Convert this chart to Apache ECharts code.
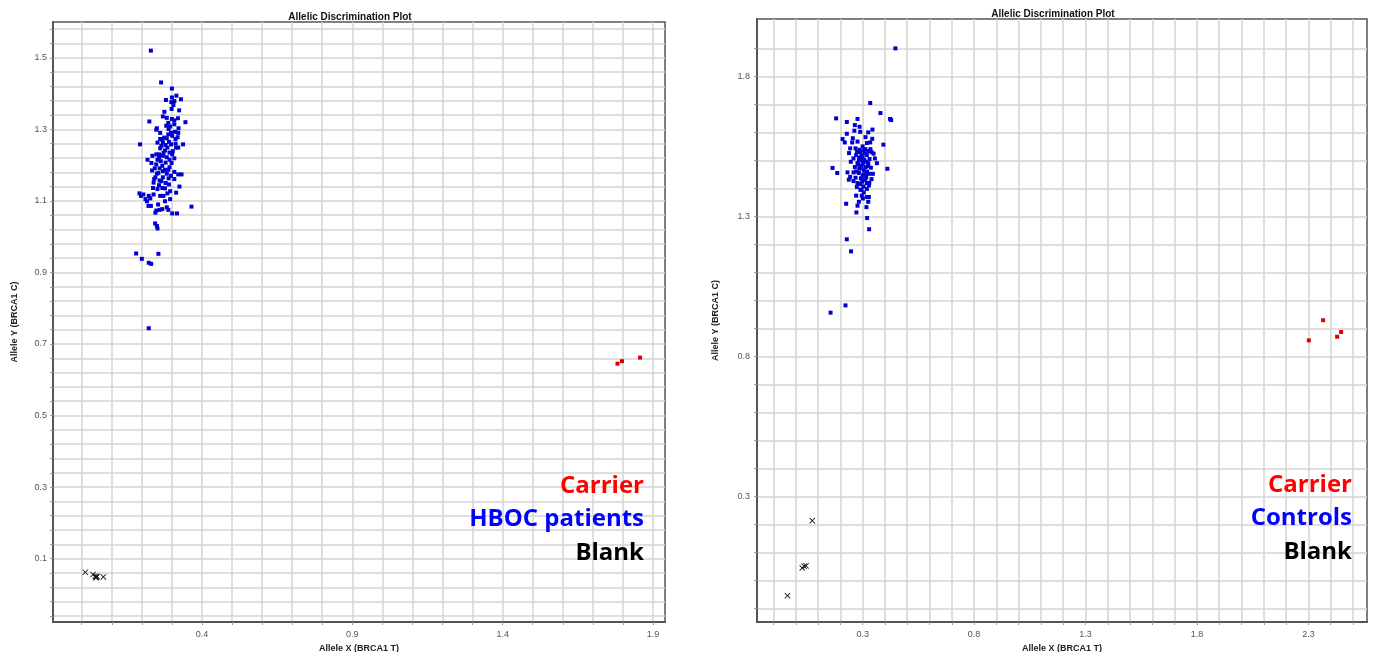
<!DOCTYPE html>
<html><head><meta charset="utf-8">
<script src="https://cdn.jsdelivr.net/npm/echarts@6/dist/echarts.min.js"></script>
<style>html,body{margin:0;padding:0;background:#fff}#c{width:1374px;height:652px}</style>
</head><body><div id="c"></div>
<script>
// ---------- texts ----------
const plotTitle = 'Allelic Discrimination Plot';
const xName = 'Allele X (BRCA1 T)';
const yName = 'Allele Y (BRCA1 C)';
const leftNames = ['Carrier', 'HBOC patients', 'Blank'];
const rightNames = ['Carrier', 'Controls', 'Blank'];

// ---------- ticks / labels ----------
const leftXLabels = [0.4, 0.9, 1.4, 1.9];
const leftXTicks = [0, 0.1, 0.2, 0.3, 0.4, 0.5, 0.6, 0.7, 0.8, 0.9, 1.0, 1.1, 1.2, 1.3, 1.4, 1.5, 1.6, 1.7, 1.8, 1.9];
const leftYLabels = [0.1, 0.3, 0.5, 0.7, 0.9, 1.1, 1.3, 1.5];
const leftYTicks = [-0.06, -0.02, 0.02, 0.06, 0.1, 0.14, 0.18, 0.22, 0.26, 0.3, 0.34, 0.38, 0.42, 0.46, 0.5, 0.54, 0.58, 0.62, 0.66, 0.7, 0.74, 0.78, 0.82, 0.86, 0.9, 0.94, 0.98, 1.02, 1.06, 1.1, 1.14, 1.18, 1.22, 1.26, 1.3, 1.34, 1.38, 1.42, 1.46, 1.5, 1.54, 1.58];
const rightXLabels = [0.3, 0.8, 1.3, 1.8, 2.3];
const rightXTicks = [-0.1, 0, 0.1, 0.2, 0.3, 0.4, 0.5, 0.6, 0.7, 0.8, 0.9, 1.0, 1.1, 1.2, 1.3, 1.4, 1.5, 1.6, 1.7, 1.8, 1.9, 2.0, 2.1, 2.2, 2.3, 2.4, 2.5];
const rightYLabels = [0.3, 0.8, 1.3, 1.8];
const rightYTicks = [-0.1, 0, 0.1, 0.2, 0.3, 0.4, 0.5, 0.6, 0.7, 0.8, 0.9, 1.0, 1.1, 1.2, 1.3, 1.4, 1.5, 1.6, 1.7, 1.8, 1.9];

// ---------- data: left (HBOC patients) ----------
const leftCarrier = [[1.782, 0.645], [1.797, 0.652], [1.857, 0.662]];
const leftBlank = [[0.012, 0.062], [0.038, 0.056], [0.045, 0.051], [0.048, 0.049], [0.051, 0.050], [0.047, 0.047], [0.072, 0.049]];
const leftPatients = [
[0.230,1.520],[0.264,1.431],[0.300,1.414],[0.315,1.394],[0.280,1.382],[0.300,1.389],[0.308,1.379],[0.330,1.384],[0.298,1.376],[0.305,1.368],
[0.299,1.357],[0.324,1.353],[0.275,1.349],[0.270,1.336],[0.283,1.332],[0.300,1.329],[0.308,1.325],[0.320,1.331],[0.225,1.322],[0.345,1.320],
[0.288,1.318],[0.294,1.308],[0.308,1.314],[0.289,1.301],[0.322,1.303],[0.250,1.303],[0.248,1.299],[0.310,1.293],[0.321,1.290],[0.297,1.290],
[0.261,1.290],[0.274,1.277],[0.283,1.275],[0.319,1.278],[0.268,1.271],[0.252,1.263],[0.270,1.263],[0.290,1.265],[0.297,1.258],[0.312,1.260],
[0.194,1.258],[0.337,1.258],[0.314,1.249],[0.321,1.249],[0.261,1.247],[0.277,1.241],[0.292,1.235],[0.248,1.230],[0.235,1.226],[0.257,1.230],
[0.270,1.226],[0.283,1.222],[0.308,1.219],[0.292,1.215],[0.219,1.215],[0.252,1.215],[0.263,1.211],[0.279,1.207],[0.232,1.206],[0.248,1.202],
[0.268,1.198],[0.292,1.194],[0.243,1.191],[0.259,1.191],[0.277,1.187],[0.234,1.185],[0.255,1.178],[0.283,1.176],[0.297,1.170],[0.321,1.174],
[0.332,1.174],[0.245,1.166],[0.270,1.166],[0.289,1.163],[0.259,1.157],[0.239,1.151],[0.279,1.150],[0.325,1.140],[0.257,1.144],[0.237,1.136],
[0.252,1.133],[0.268,1.136],[0.294,1.127],[0.285,1.121],[0.192,1.121],[0.205,1.118],[0.197,1.114],[0.223,1.114],[0.239,1.118],[0.212,1.105],
[0.228,1.107],[0.217,1.099],[0.277,1.099],[0.254,1.090],[0.222,1.086],[0.230,1.086],[0.268,1.077],[0.283,1.082],[0.365,1.084],[0.288,1.075],
[0.248,1.073],[0.259,1.075],[0.245,1.067],[0.301,1.065],[0.317,1.065],[0.244,1.037],[0.250,1.030],[0.252,1.023],[0.181,0.953],[0.255,0.952],
[0.200,0.938],[0.223,0.927],[0.231,0.924],[0.223,0.744],
[0.281,1.310],[0.301,1.282],[0.265,1.254],[0.285,1.249],[0.303,1.239],[0.272,1.234],[0.257,1.221],[0.299,1.206],[0.270,1.183],[0.288,1.187],
[0.308,1.181],[0.250,1.176],[0.265,1.155],[0.290,1.146],[0.277,1.135],[0.261,1.114],[0.294,1.105],[0.272,1.114],[0.314,1.123],[0.301,1.230],
[0.279,1.256],[0.261,1.273],[0.288,1.286],[0.312,1.273],[0.241,1.161],[0.308,1.161]
];

// ---------- data: right (Controls) ----------
const rightCarrier = [[2.366, 0.929], [2.302, 0.857], [2.429, 0.870], [2.447, 0.887]];
const rightBlank = [[0.074, 0.213], [0.029, 0.044], [0.038, 0.050], [0.046, 0.052], [-0.037, -0.055]];
const rightControls = [
[0.447,1.900],[0.334,1.705],[0.380,1.669],[0.423,1.648],[0.428,1.644],[0.181,1.650],[0.229,1.637],[0.277,1.648],[0.265,1.626],[0.286,1.620],
[0.263,1.606],[0.289,1.602],[0.325,1.600],[0.344,1.610],[0.229,1.595],[0.313,1.583],[0.343,1.577],[0.210,1.576],[0.256,1.579],[0.220,1.564],
[0.253,1.564],[0.277,1.567],[0.319,1.562],[0.393,1.556],[0.334,1.564],[0.244,1.543],[0.268,1.543],[0.286,1.538],[0.304,1.536],[0.326,1.533],
[0.341,1.529],[0.239,1.526],[0.271,1.519],[0.295,1.517],[0.319,1.519],[0.349,1.524],[0.259,1.507],[0.283,1.502],[0.307,1.502],[0.331,1.505],
[0.355,1.507],[0.247,1.495],[0.277,1.490],[0.301,1.488],[0.325,1.490],[0.364,1.490],[0.165,1.473],[0.265,1.476],[0.289,1.474],[0.313,1.476],
[0.337,1.474],[0.411,1.470],[0.186,1.455],[0.232,1.457],[0.259,1.457],[0.283,1.455],[0.304,1.450],[0.328,1.452],[0.346,1.452],[0.244,1.441],
[0.268,1.438],[0.292,1.436],[0.316,1.438],[0.340,1.433],[0.238,1.431],[0.259,1.426],[0.298,1.424],[0.319,1.419],[0.277,1.419],[0.304,1.407],
[0.328,1.410],[0.274,1.405],[0.295,1.395],[0.319,1.398],[0.271,1.374],[0.296,1.374],[0.319,1.369],[0.301,1.364],[0.328,1.369],[0.283,1.352],
[0.325,1.352],[0.226,1.345],[0.277,1.338],[0.317,1.333],[0.272,1.314],[0.320,1.294],[0.329,1.254],[0.229,1.218],[0.248,1.175],[0.223,0.982],
[0.156,0.956],
[0.290,1.530],[0.310,1.525],[0.300,1.510],[0.315,1.495],[0.295,1.480],[0.305,1.465],[0.285,1.470],[0.320,1.460],[0.300,1.445],[0.310,1.430],
[0.290,1.415],[0.315,1.450],[0.280,1.485],[0.325,1.480],[0.295,1.500],[0.305,1.385],[0.290,1.395],[0.312,1.540],[0.275,1.530],[0.335,1.540],
[0.270,1.460],[0.330,1.420],[0.300,1.550],[0.285,1.510]
];

// ---------- styling ----------
const BLUE = '#0000d0', RED = '#e00000', BLACK = '#111111';
const crossPath = 'path://M0,1L1,0L5,4L9,0L10,1L6,5L10,9L9,10L5,6L1,10L0,9L4,5Z';
const tickFont = 'Liberation Sans, Arial, sans-serif';

function xAxisCfg(gridIndex, min, max, ticks, labels) {
  return {
    type: 'value', gridIndex, min, max,
    name: xName, nameLocation: 'middle', nameGap: 17,
    nameTextStyle: { fontFamily: tickFont, fontWeight: 'bold', fontSize: 9, color: '#222' },
    axisLine: { show: true, onZero: false, lineStyle: { color: '#555', width: 2 } },
    axisTick: { show: true, length: 3, customValues: ticks, lineStyle: { color: '#999' } },
    axisLabel: { customValues: labels, fontSize: 9, color: '#555', margin: 8, fontFamily: tickFont },
    splitLine: { show: true, lineStyle: { color: '#d4d4d4', width: 1.5 } }
  };
}
function yAxisCfg(gridIndex, min, max, ticks, labels, gap, margin) {
  return {
    type: 'value', gridIndex, min, max,
    name: yName, nameLocation: 'middle', nameGap: gap,
    nameTextStyle: { fontFamily: tickFont, fontWeight: 'bold', fontSize: 9, color: '#222' },
    axisLine: { show: true, onZero: false, lineStyle: { color: '#555', width: 2 } },
    axisTick: { show: true, length: 3, customValues: ticks, lineStyle: { color: '#999' } },
    axisLabel: { customValues: labels, fontSize: 9, color: '#555', margin: margin, fontFamily: tickFont },
    splitLine: { show: true, lineStyle: { color: '#d4d4d4', width: 1.5 } }
  };
}
function legendTitle(text, color, right, top) {
  return { text, right, top, padding: 0,
    textStyle: { color, fontFamily: 'Open Sans', fontWeight: 'bold', fontSize: 24, lineHeight: 24 } };
}
function headTitle(left, top) {
  return { text: plotTitle, left, top, padding: 0, textAlign: 'center',
    textStyle: { fontFamily: tickFont, fontWeight: 'bold', fontSize: 10, color: '#111' } };
}
function scatter(name, data, xi, color, symbol, size) {
  return { type: 'scatter', name, data, xAxisIndex: xi, yAxisIndex: xi, symbol, symbolSize: size,
    itemStyle: { color, opacity: 1 }, silent: true, animation: false };
}

const chart = echarts.init(document.getElementById('c'), null, { renderer: 'canvas' });
chart.setOption({
  backgroundColor: '#fff',
  animation: false,
  title: [
    headTitle(350, 12), headTitle(1053, 9),
    legendTitle(leftNames[0], '#ff0000', 730, 474),
    legendTitle(leftNames[1], '#0000ff', 730, 507),
    legendTitle(leftNames[2], '#000000', 730, 541),
    legendTitle(rightNames[0], '#ff0000', 22, 473),
    legendTitle(rightNames[1], '#0000ff', 22, 506),
    legendTitle(rightNames[2], '#000000', 22, 540)
  ],
  grid: [
    { left: 53, top: 22, width: 612, height: 600, show: true, borderColor: '#555', borderWidth: 1.5, backgroundColor: '#fff', outerBoundsMode: 'none', containLabel: false },
    { left: 757, top: 19, width: 610, height: 603, show: true, borderColor: '#555', borderWidth: 1.5, backgroundColor: '#fff', outerBoundsMode: 'none', containLabel: false }
  ],
  xAxis: [
    xAxisCfg(0, -0.0955, 1.94, leftXTicks, leftXLabels),
    xAxisCfg(1, -0.174, 2.563, rightXTicks, rightXLabels)
  ],
  yAxis: [
    yAxisCfg(0, -0.077, 1.60, leftYTicks, leftYLabels, 34, 6),
    yAxisCfg(1, -0.149, 2.005, rightYTicks, rightYLabels, 37, 7)
  ],
  series: [
    scatter(leftNames[1], leftPatients, 0, BLUE, 'rect', 4),
    scatter(leftNames[0], leftCarrier, 0, RED, 'rect', 4),
    scatter(leftNames[2], leftBlank, 0, BLACK, crossPath, 6),
    scatter(rightNames[1], rightControls, 1, BLUE, 'rect', 4),
    scatter(rightNames[0], rightCarrier, 1, RED, 'rect', 4),
    scatter(rightNames[2], rightBlank, 1, BLACK, crossPath, 6)
  ]
});
</script></body></html>
